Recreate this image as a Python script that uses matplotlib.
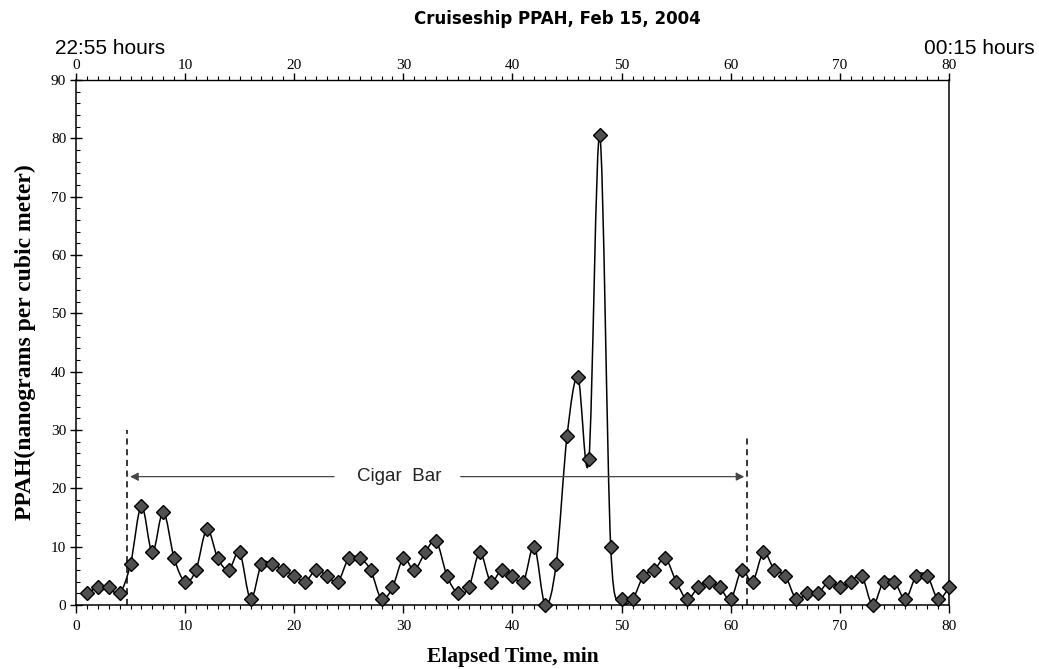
import numpy as np
import matplotlib.pyplot as plt
from matplotlib.path import Path
from matplotlib.patches import PathPatch
from matplotlib.ticker import MultipleLocator

# elapsed minutes and PPAH readings (ng/m3)
minutes = list(range(1, 81))
ppah = [2, 3, 3, 2, 7, 17, 9, 16, 8, 4,
        6, 13, 8, 6, 9, 1, 7, 7, 6, 5,
        4, 6, 5, 4, 8, 8, 6, 1, 3, 8,
        6, 9, 11, 5, 2, 3, 9, 4, 6, 5,
        4, 10, 0, 7, 29, 39, 25, 80.5, 10, 1,
        1, 5, 6, 8, 4, 1, 3, 4, 3, 1,
        6, 4, 9, 6, 5, 1, 2, 2, 4, 3,
        4, 5, 0, 4, 4, 1, 5, 5, 1, 3]

cigar_start = 4.7
cigar_end = 61.5
marker_tops = [30.0, 28.8]
arrow_y = 22
arrow_tails = [23.9, 35.0]
label_x = 29.6
start_time = "22:55 hours"
end_time = "00:15 hours"

fig = plt.figure(figsize=(10.39, 6.69), dpi=100)
ax = fig.add_axes([0.0731, 0.0957, 0.8403, 0.7847])

# smooth curve through the readings (catmull-rom as cubic bezier segments)
pts = np.column_stack([minutes, ppah]).astype(float)
ext = np.vstack([pts[0], pts, pts[-1]])
verts = [pts[0]]
codes = [Path.MOVETO]
for i in range(1, len(ext) - 2):
    p0, p1, p2, p3 = ext[i - 1], ext[i], ext[i + 1], ext[i + 2]
    verts += [p1 + (p2 - p0) / 6, p2 - (p3 - p1) / 6, p2]
    codes += [Path.CURVE4] * 3
ax.add_patch(PathPatch(Path(verts, codes), facecolor='none',
                       edgecolor='black', lw=1.1, zorder=2))

ax.plot(minutes, ppah, linestyle='none', marker='D', markersize=7.5,
        markerfacecolor='#505050', markeredgecolor='black',
        markeredgewidth=1.0, zorder=3, clip_on=False)

# cigar bar markers
ax.plot([cigar_start, cigar_start], [0, marker_tops[0]], color='black',
        lw=1.1, ls=(0, (4, 3)))
ax.plot([cigar_end, cigar_end], [0, marker_tops[1]], color='black',
        lw=1.1, ls=(0, (4, 3)))
ax.annotate('', xy=(cigar_start, arrow_y), xytext=(arrow_tails[0], arrow_y),
            arrowprops=dict(arrowstyle='-|>', color='#444444', lw=0.9,
                            ls=(0, (1.5, 0.6)), mutation_scale=12))
ax.annotate('', xy=(cigar_end, arrow_y), xytext=(arrow_tails[1], arrow_y),
            arrowprops=dict(arrowstyle='-|>', color='#444444', lw=0.9,
                            ls=(0, (1.5, 0.6)), mutation_scale=12))
ax.text(label_x, arrow_y, 'Cigar  Bar', ha='center', va='center',
        fontsize=13.5, family='Liberation Sans', color='#222222')

ax.set_xlim(0, 80)
ax.set_ylim(0, 90)
ax.xaxis.set_major_locator(MultipleLocator(10))
ax.xaxis.set_minor_locator(MultipleLocator(1))
ax.yaxis.set_major_locator(MultipleLocator(10))
ax.yaxis.set_minor_locator(MultipleLocator(2))
ax.tick_params(axis='x', which='major', direction='out', length=6, width=1,
               labelsize=11, pad=5)
ax.tick_params(axis='x', which='minor', direction='out', length=3, width=0.8)
ax.tick_params(axis='y', which='major', direction='inout', length=8, width=1,
               labelsize=11, pad=3)
ax.tick_params(axis='y', which='minor', direction='in', length=3, width=0.8)
for lab in ax.get_xticklabels() + ax.get_yticklabels():
    lab.set_family('Liberation Serif')
for s in ['left', 'bottom', 'right']:
    ax.spines[s].set_linewidth(1.1)
ax.spines['top'].set_visible(False)

top = ax.twiny()
top.set_xlim(0, 80)
top.xaxis.set_major_locator(MultipleLocator(10))
top.xaxis.set_minor_locator(MultipleLocator(1))
top.tick_params(axis='x', which='major', direction='out', length=5, width=1,
                labelsize=11, pad=1)
top.tick_params(axis='x', which='minor', direction='out', length=3, width=0.8)
for lab in top.get_xticklabels():
    lab.set_family('Liberation Serif')
top.spines['top'].set_linewidth(1.0)
for s in ['left', 'bottom', 'right']:
    top.spines[s].set_visible(False)

ax.set_xlabel('Elapsed Time, min', fontsize=15.5, fontweight='bold',
              family='Liberation Serif', labelpad=10)
ax.set_ylabel('PPAH(nanograms per cubic meter)', fontsize=17,
              fontweight='bold', family='Liberation Serif', labelpad=11)

fig.text(0.536, 0.972, 'Cruiseship PPAH, Feb 15, 2004', ha='center',
         va='center', fontsize=12, fontweight='bold', family='DejaVu Sans')
fig.text(0.053, 0.928, start_time, ha='left', va='center', fontsize=15,
         family='Liberation Sans')
fig.text(0.996, 0.928, end_time, ha='right', va='center', fontsize=15,
         family='Liberation Sans')

fig.savefig('out.png', dpi=100)
